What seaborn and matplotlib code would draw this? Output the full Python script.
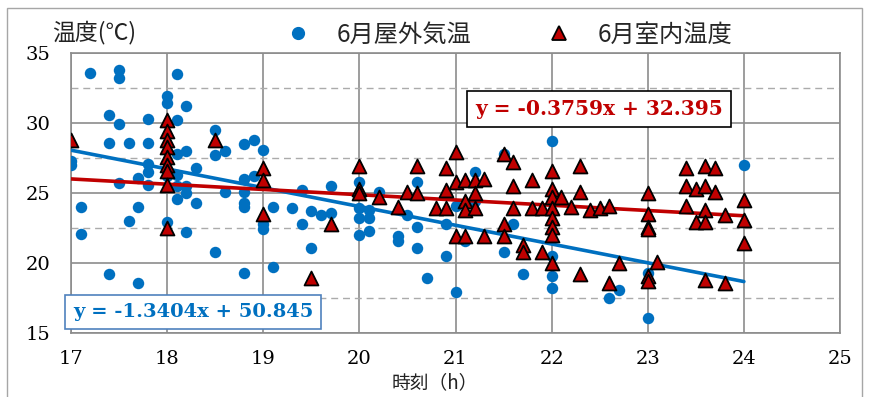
import matplotlib
matplotlib.use("Agg")
import matplotlib.pyplot as plt
from matplotlib.lines import Line2D
from matplotlib.patches import Rectangle
import numpy as np
import pandas as pd
import seaborn as sns

# June outdoor air temperature (blue circles)
outdoor_hour = [
    17.0, 17.0, 17.1, 17.1, 17.2,
    17.4, 17.4, 17.4, 17.5, 17.5, 17.5, 17.5, 17.6, 17.6,
    17.7, 17.7, 17.7, 17.8, 17.8, 17.8, 17.8, 17.8,
    18.0, 18.0, 18.0, 18.0,
    18.1, 18.1, 18.1, 18.1, 18.1, 18.1,
    18.2, 18.2, 18.2, 18.2, 18.2, 18.3, 18.3,
    18.5, 18.5, 18.5, 18.6, 18.6,
    18.8, 18.8, 18.8, 18.8, 18.8, 18.8, 18.9, 18.9,
    19.0, 19.0, 19.0, 19.1, 19.1, 19.3, 19.4, 19.4, 19.5, 19.5,
    19.6, 19.7, 19.7,
    20.0, 20.0, 20.0, 20.0, 20.1, 20.1, 20.1, 20.2,
    20.4, 20.4, 20.5, 20.6, 20.6, 20.6, 20.7, 20.9, 20.9,
    21.0, 21.0, 21.1, 21.2, 21.2, 21.5, 21.5, 21.6, 21.7,
    22.0, 22.0, 22.0, 22.0, 22.6, 22.7, 23.0, 23.0, 24.0,
]
outdoor_temp = [
    27.3, 27.0, 24.0, 22.1, 33.6,
    30.6, 28.6, 19.2, 33.8, 33.2, 29.9, 25.7, 28.6, 23.0,
    26.1, 24.0, 18.6, 30.3, 28.6, 27.1, 26.5, 25.6,
    31.9, 31.4, 26.2, 22.9,
    33.5, 30.2, 27.8, 26.3, 25.5, 24.6,
    31.2, 28.0, 25.5, 25.0, 22.2, 26.8, 24.3,
    29.5, 27.7, 20.8, 28.0, 25.1,
    28.5, 26.0, 25.1, 24.3, 24.0, 19.3, 28.8, 26.2,
    28.1, 22.8, 22.4, 24.0, 19.7, 23.9, 25.2, 22.8, 23.7, 21.1,
    23.4, 25.5, 23.6,
    25.8, 23.9, 23.2, 22.0, 23.8, 23.2, 22.3, 25.1,
    21.9, 21.6, 23.4, 25.8, 22.6, 21.1, 18.9, 22.8, 20.5,
    24.1, 17.9, 21.6, 26.5, 24.4, 27.8, 20.8, 22.8, 19.2,
    28.7, 20.5, 19.1, 18.2, 17.5, 18.1, 19.3, 16.05, 27.0,
]

# June indoor temperature (red triangles)
indoor_hour = [
    17.0,
    18.0, 18.0, 18.0, 18.0, 18.0, 18.0, 18.0, 18.0, 18.0,
    18.5, 19.0, 19.0, 19.0, 19.5, 19.7,
    20.0, 20.0, 20.0, 20.2, 20.4, 20.5, 20.6, 20.6, 20.8,
    20.9, 20.9, 20.9, 21.0, 21.0, 21.0,
    21.1, 21.1, 21.1, 21.1, 21.2, 21.2, 21.2, 21.3, 21.3,
    21.5, 21.5, 21.5, 21.6, 21.6, 21.6, 21.7, 21.7,
    21.8, 21.8, 21.9, 21.9,
    22.0, 22.0, 22.0, 22.0, 22.0, 22.0, 22.0, 22.0,
    22.1, 22.2, 22.3, 22.3, 22.3, 22.4, 22.5, 22.6, 22.6, 22.7,
    23.0, 23.0, 23.0, 23.0, 23.0, 23.0, 23.1,
    23.4, 23.4, 23.4, 23.5, 23.5,
    23.6, 23.6, 23.6, 23.6, 23.6, 23.7, 23.7, 23.8, 23.8,
    24.0, 24.0, 24.0,
]
indoor_temp = [
    28.8,
    30.2, 29.4, 28.8, 28.3, 27.6, 27.0, 26.6, 25.6, 22.5,
    28.8, 26.8, 25.9, 23.5, 18.9, 22.8,
    26.9, 25.3, 25.0, 24.7, 24.0, 25.1, 26.9, 25.0, 23.9,
    26.8, 25.2, 23.9, 27.9, 25.8, 21.9,
    25.9, 24.4, 23.8, 21.9, 25.9, 25.0, 23.9, 26.0, 21.9,
    27.8, 22.8, 21.9, 27.2, 25.5, 23.9, 21.3, 20.8,
    25.9, 23.9, 23.9, 20.8,
    26.6, 25.3, 24.7, 23.9, 23.2, 22.6, 22.0, 20.0,
    24.7, 24.0, 26.9, 25.1, 19.2, 23.8, 23.9, 24.1, 18.6, 20.0,
    25.0, 23.5, 22.6, 22.4, 19.1, 18.7, 20.1,
    26.8, 25.5, 24.1, 25.3, 22.9,
    26.9, 25.5, 23.8, 22.9, 18.8, 26.8, 25.1, 23.4, 18.6,
    24.5, 23.1, 21.4,
]

# Linear trend lines (slope, intercept) and the span they cover
outdoor_fit = (-1.3404, 50.845)
indoor_fit = (-0.3759, 32.395)
fit_span = [17, 24]

x_ticks = [17, 18, 19, 20, 21, 22, 23, 24, 25]
y_ticks = [15, 20, 25, 30, 35]
y_minor = [17.5, 22.5, 27.5, 32.5]

legend_labels = ["6月屋外気温", "6月室内温度"]
y_title = "温度(℃)"
x_title = "時刻（h）"

BLUE = "#0070C0"
RED = "#C00000"
GRID = "#8C8C8C"
CJK = ["Noto Sans CJK JP", "DejaVu Sans"]
SERIF = "DejaVu Serif"

sns.set_style("white")
plt.rcParams["font.family"] = [SERIF, "Noto Sans CJK JP"]

fig = plt.figure(figsize=(8.70, 3.97), dpi=100)
W, H = 870, 397
ax = fig.add_axes([71 / W, 1 - 333 / H, (840 - 71) / W, (333 - 53) / H])

out_df = pd.DataFrame({"hour": outdoor_hour, "temp": outdoor_temp})
in_df = pd.DataFrame({"hour": indoor_hour, "temp": indoor_temp})

sns.scatterplot(data=out_df, x="hour", y="temp", ax=ax, color=BLUE,
                marker="o", s=68, edgecolor=BLUE, linewidth=0, zorder=3,
                legend=False)

fit_x = np.array(fit_span, dtype=float)
for (m, b), col in ((outdoor_fit, BLUE), (indoor_fit, RED)):
    fit_df = pd.DataFrame({"hour": fit_x, "temp": m * fit_x + b})
    sns.lineplot(data=fit_df, x="hour", y="temp", ax=ax, color=col,
                 linewidth=2.6, zorder=4, legend=False)

sns.scatterplot(data=in_df, x="hour", y="temp", ax=ax, color=RED,
                marker="^", s=100, edgecolor="black", linewidth=1.3,
                zorder=5, legend=False)

ax.set_xlim(17, 25)
ax.set_ylim(15, 35)
ax.set_xticks(x_ticks)
ax.set_yticks(y_ticks)
ax.set_xlabel("")
ax.set_ylabel("")

# grid: solid at the labelled values, dashed in between
for xv in x_ticks:
    ax.axvline(xv, color=GRID, linewidth=1.2, zorder=1)
for yv in y_ticks:
    ax.axhline(yv, color=GRID, linewidth=1.2, zorder=1)
for yv in y_minor:
    ax.axhline(yv, color="#ABABAB", linewidth=1.0, linestyle=(0, (5, 3.5)),
               zorder=1)

for sp in ax.spines.values():
    sp.set_color(GRID)
    sp.set_linewidth(1.2)

ax.tick_params(axis="x", direction="out", length=6, width=1.2, color=GRID,
               pad=6, labelsize=14, labelcolor="black")
ax.tick_params(axis="y", direction="out", length=5, width=1.2, color=GRID,
               pad=10, labelsize=14, labelcolor="black")
for lab in ax.get_xticklabels() + ax.get_yticklabels():
    lab.set_fontfamily(SERIF)

# axis titles
fig.text(52 / W, 1 - 33 / H, y_title, family=CJK, fontsize=16.5,
         ha="left", va="center", color="#222222")
fig.text(392 / W, 1 - 383 / H, x_title, family=CJK, fontsize=13.5,
         ha="left", va="center", color="#222222")

# legend across the top
handles = [
    Line2D([], [], linestyle="none", marker="o", markersize=8.5,
           markerfacecolor=BLUE, markeredgecolor=BLUE),
    Line2D([], [], linestyle="none", marker="^", markersize=10,
           markerfacecolor=RED, markeredgecolor="black", markeredgewidth=1.3),
]
fig.legend(handles, legend_labels, loc="center",
           bbox_to_anchor=(508 / W, 1 - 35 / H), ncol=2, frameon=False,
           prop={"family": CJK, "size": 17.5}, handletextpad=1.0,
           columnspacing=3.0, handlelength=1.2)

# trend-line equations
fig.text(599 / W, 1 - 109 / H, f"y = {indoor_fit[0]}x + {indoor_fit[1]}",
         family=SERIF, fontweight="bold", fontsize=14.5, color=RED,
         ha="center", va="center",
         bbox=dict(boxstyle="square,pad=0.4", facecolor="white",
                   edgecolor="black", linewidth=1.2))
fig.text(193 / W, 1 - 312 / H, f"y = {outdoor_fit[0]}x + {outdoor_fit[1]}",
         family=SERIF, fontweight="bold", fontsize=14, color=BLUE,
         ha="center", va="center",
         bbox=dict(boxstyle="square,pad=0.4", facecolor="white",
                   edgecolor="#4F81BD", linewidth=1.2))

# outer chart frame
fig.patches.append(Rectangle((7 / W, -0.05), (862 - 7) / W, 1.05 - 8 / H,
                             transform=fig.transFigure, fill=False,
                             edgecolor="#A6A6A6", linewidth=1.0))

fig.savefig("out.png", dpi=100)
